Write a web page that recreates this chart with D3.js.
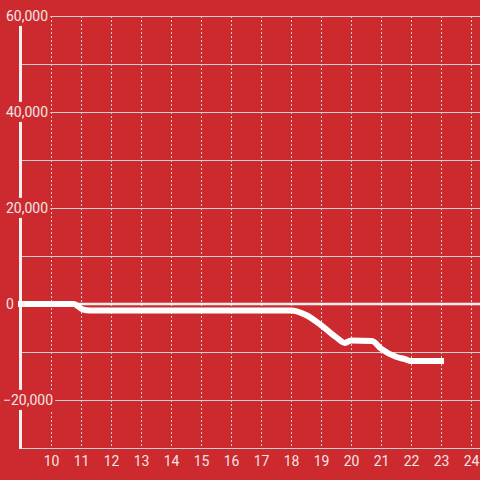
<!DOCTYPE html>
<html>
<head>
<meta charset="utf-8">
<script src="https://cdn.jsdelivr.net/npm/d3@7"></script>
<style>
  body { margin: 0; background: #cc2a2e; }
  svg { display: block; }
</style>
</head>
<body>
<div id="chart"></div>
<script>
// DATA
const xValues = [9, 10.75, 11.05, 11.3, 18, 18.5, 19, 19.5, 19.8, 20, 20.7, 21, 21.5, 21.8, 22, 23];
const yValues = [0, 0, -1100, -1350, -1350, -2300, -4400, -6900, -8100, -7600, -7700, -9300, -11000, -11500, -11900, -11900];
const xTicks = [10, 11, 12, 13, 14, 15, 16, 17, 18, 19, 20, 21, 22, 23, 24];
const yTicks = [60000, 40000, 20000, 0, -20000];
const yGrid = [60000, 50000, 40000, 30000, 20000, 10000, -10000, -20000, -30000];

// SETTINGS
const width = 480, height = 480;
const margin = { top: 16, right: 0, bottom: 32, left: 21 };
const bgColor = '#cc2a2e';
const gridColor = '#d0d0d0';
const textColor = '#f2e4e4';

const data = xValues.map((x, i) => ({ x: x, y: yValues[i] }));

// SCALES
const x = d3.scaleLinear().domain([9, 24.3]).range([margin.left, width - margin.right]);
const y = d3.scaleLinear().domain([-30000, 60000]).range([height - margin.bottom, margin.top]);

const svg = d3.select('#chart').append('svg')
    .attr('width', width)
    .attr('height', height);

svg.append('rect').attr('width', width).attr('height', height).attr('fill', bgColor);

// vertical dotted grid
svg.append('g').selectAll('line')
  .data(xTicks)
  .join('line')
    .attr('x1', d => x(d) + 0.5).attr('x2', d => x(d) + 0.5)
    .attr('y1', y(60000)).attr('y2', y(-30000))
    .attr('stroke', gridColor)
    .attr('stroke-width', 1)
    .attr('stroke-dasharray', '2,2');

// horizontal grid
svg.append('g').selectAll('line')
  .data(yGrid)
  .join('line')
    .attr('x1', margin.left).attr('x2', width)
    .attr('y1', d => Math.round(y(d)) + 0.5).attr('y2', d => Math.round(y(d)) + 0.5)
    .attr('stroke', gridColor)
    .attr('stroke-width', 1);

// zero line
svg.append('line')
    .attr('x1', margin.left).attr('x2', width)
    .attr('y1', y(0)).attr('y2', y(0))
    .attr('stroke', '#f4f0f0')
    .attr('stroke-width', 2.5);

// left axis bar
svg.append('line')
    .attr('x1', margin.left - 0.5).attr('x2', margin.left - 0.5)
    .attr('y1', y(60000)).attr('y2', y(-30000) + 1)
    .attr('stroke', '#f4f0f0')
    .attr('stroke-width', 3);

// y labels with background
const fmt = d3.format(',');
const yLab = svg.append('g').selectAll('g')
  .data(yTicks)
  .join('g')
    .attr('transform', d => `translate(${d < 0 ? 3 : 6}, ${y(d)})`);

yLab.append('text')
    .attr('text-anchor', 'start')
    .attr('dy', '0.35em')
    .attr('fill', textColor)
    .style('font-family', 'Roboto, sans-serif')
    .style('font-size', '14px')
    .text(d => fmt(d));

yLab.each(function() {
  const g = d3.select(this);
  const b = g.select('text').node().getBBox();
  g.insert('rect', 'text')
    .attr('x', b.x - 2).attr('y', b.y - 2)
    .attr('width', b.width + 4).attr('height', b.height + 4)
    .attr('fill', bgColor);
});

// x labels
svg.append('g').selectAll('text')
  .data(xTicks)
  .join('text')
    .attr('x', d => x(d) + 0.5)
    .attr('y', y(-30000) + 13)
    .attr('dy', '0.35em')
    .attr('text-anchor', 'middle')
    .attr('fill', textColor)
    .style('font-family', 'Roboto, sans-serif')
    .style('font-size', '14px')
    .text(d => d);

// LINE
const line = d3.line()
    .x(d => x(d.x))
    .y(d => y(d.y))
    .curve(d3.curveMonotoneX);

svg.append('path')
    .datum(data)
    .attr('fill', 'none')
    .attr('stroke', '#ffffff')
    .attr('stroke-width', 6)
    .attr('stroke-linejoin', 'round')
    .attr('stroke-linecap', 'square')
    .attr('d', line);
</script>
</body>
</html>
